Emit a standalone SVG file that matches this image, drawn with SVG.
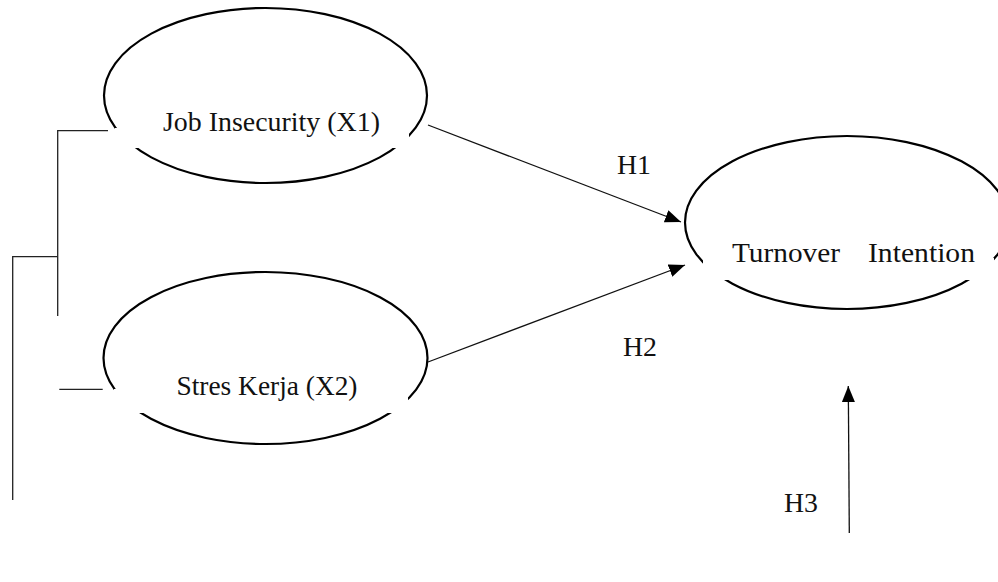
<svg xmlns="http://www.w3.org/2000/svg" width="998" height="582" viewBox="0 0 998 582">
<style>
.ell{fill:none;stroke:#000;stroke-width:2.2}
.box{fill:#fff;stroke:none}
.lbl{font-family:"Liberation Serif","Times New Roman",serif;font-size:27px;fill:#111}
.con{fill:none;stroke:#222;stroke-width:1.3}
.arr{fill:none;stroke:#111;stroke-width:1.3}
</style>
<defs>
<marker id="ah" markerUnits="userSpaceOnUse" markerWidth="18" markerHeight="14" refX="16" refY="6.5" orient="auto">
<path d="M0,0 L16,6.5 L0,13 z" fill="#000"/>
</marker>
</defs>
<rect width="998" height="582" fill="#fff"/>
<g id="connectors">
<polyline class="con" points="108,130.7 57.7,130.7 57.7,316"/>
<polyline class="con" points="57.7,256.7 12.7,256.7 12.7,500"/>
<line class="con" x1="59.3" y1="389.3" x2="102.7" y2="389.3"/>
<line class="arr" x1="428" y1="125" x2="681" y2="222" marker-end="url(#ah)"/>
<line class="arr" x1="428" y1="362" x2="685" y2="265" marker-end="url(#ah)"/>
<line class="arr" x1="849.3" y1="533" x2="848.3" y2="386" marker-end="url(#ah)"/>
</g>
<g id="node-x1">
<ellipse class="ell" cx="265.5" cy="95.5" rx="161.5" ry="87.5"/>
<rect class="box" x="115" y="128" width="294" height="20"/>
<text class="lbl" x="163" y="130.5" textLength="217" lengthAdjust="spacingAndGlyphs">Job Insecurity (X1)</text>
</g>
<g id="node-x2">
<ellipse class="ell" cx="265.5" cy="358" rx="162" ry="86"/>
<rect class="box" x="114" y="389" width="294" height="24"/>
<text class="lbl" x="176.5" y="395" textLength="181" lengthAdjust="spacingAndGlyphs">Stres Kerja (X2)</text>
</g>
<g id="node-y">
<ellipse class="ell" cx="847" cy="222.5" rx="162" ry="86.5"/>
<rect class="box" x="703" y="258" width="291" height="22"/>
<text class="lbl" y="262"><tspan x="732" textLength="108" lengthAdjust="spacingAndGlyphs">Turnover</tspan><tspan x="868" textLength="107" lengthAdjust="spacingAndGlyphs">Intention</tspan></text>
</g>
<g id="labels">
<text class="lbl" x="617" y="174" textLength="34" lengthAdjust="spacingAndGlyphs">H1</text>
<text class="lbl" x="623" y="356" textLength="34" lengthAdjust="spacingAndGlyphs">H2</text>
<text class="lbl" x="784" y="512" textLength="34" lengthAdjust="spacingAndGlyphs">H3</text>
</g>
</svg>
